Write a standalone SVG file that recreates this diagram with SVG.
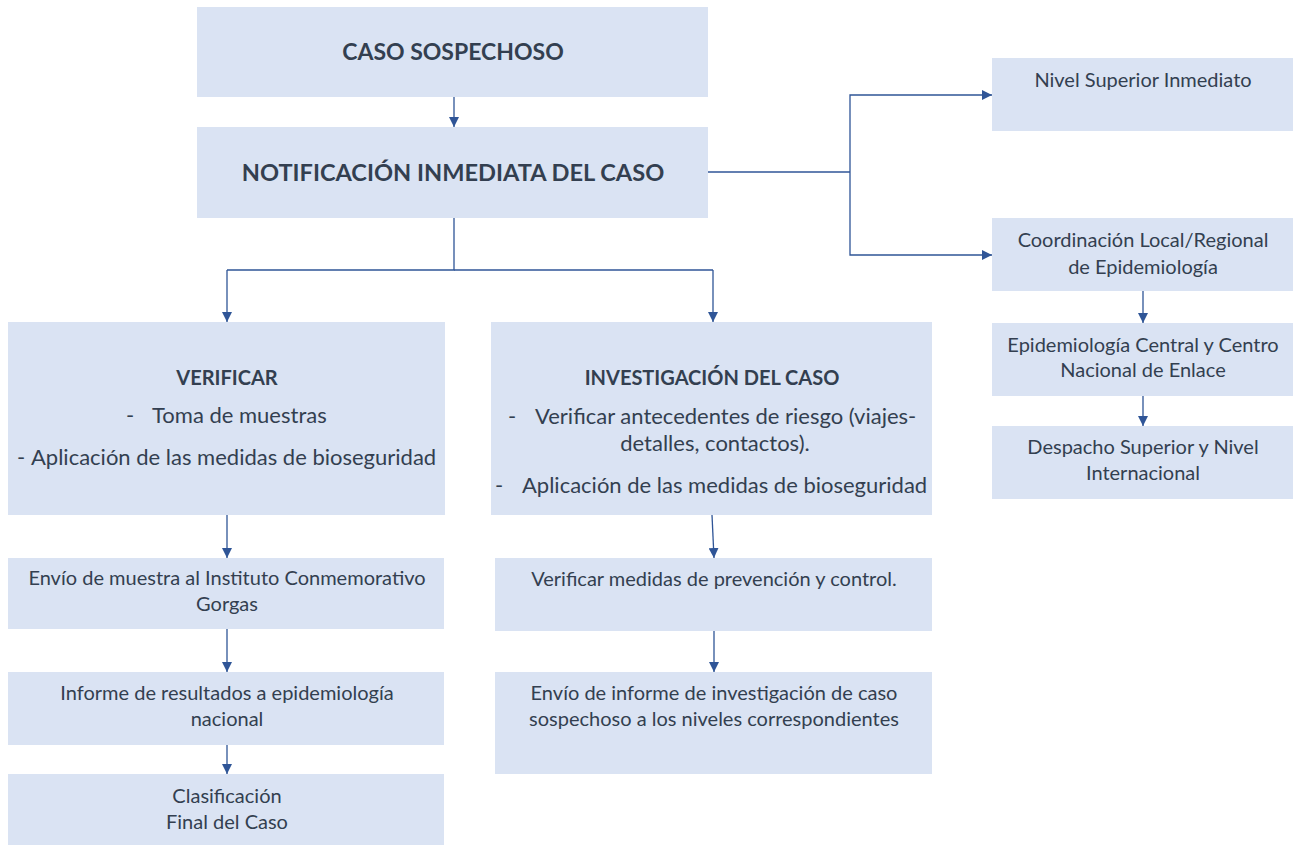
<svg xmlns="http://www.w3.org/2000/svg" width="1293" height="846" viewBox="0 0 1293 846">
<defs>
<marker id="ah" viewBox="0 0 10 10" refX="10" refY="5" markerWidth="10" markerHeight="10" markerUnits="userSpaceOnUse" orient="auto">
<path d="M0,0 L10,5 L0,10 z" fill="#2F5597"/>
</marker>
<style>
.box{fill:#DAE3F3;}
text{font-family:Lato,"Liberation Sans",sans-serif;fill:#333F50;font-size:20px;text-anchor:middle;}
.b{font-weight:bold;}
.lg{font-size:22px;}
.s{text-anchor:start;}
.c{stroke:#2F5597;stroke-width:1.3;fill:none;marker-end:url(#ah);}
.l{stroke:#2F5597;stroke-width:1.3;fill:none;}
</style>
</defs>
<rect width="1293" height="846" fill="#fff"/>
<g id="connectors">
<line class="c" x1="454" y1="97" x2="454" y2="127"/>
<polyline class="l" points="454,218 454,270 227,270"/>
<line class="l" x1="454" y1="270" x2="713" y2="270"/>
<line class="c" x1="227" y1="270" x2="227" y2="322"/>
<line class="c" x1="713" y1="270" x2="713" y2="322"/>
<polyline class="l" points="708,172 850,172"/>
<polyline class="c" points="850,172 850,95 992,95"/>
<polyline class="c" points="850,172 850,255 992,255"/>
<line class="c" x1="227" y1="515" x2="227" y2="558"/>
<line class="c" x1="227" y1="629" x2="227" y2="672"/>
<line class="c" x1="227" y1="745" x2="227" y2="774"/>
<line class="c" x1="712" y1="515" x2="714" y2="558"/>
<line class="c" x1="714" y1="631" x2="714" y2="672"/>
<line class="c" x1="1143" y1="291" x2="1143" y2="323"/>
<line class="c" x1="1143" y1="396" x2="1143" y2="426"/>
</g>
<g id="n-caso">
<rect class="box" x="197" y="7" width="511" height="90"/>
<text class="b" x="453" y="60" style="font-size:23px">CASO SOSPECHOSO</text>
</g>
<g id="n-notif">
<rect class="box" x="197" y="127" width="511" height="91"/>
<text class="b" x="453" y="181" style="font-size:23.6px">NOTIFICACIÓN INMEDIATA DEL CASO</text>
</g>
<g id="n-verificar">
<rect class="box" x="8" y="322" width="437" height="193"/>
<text class="b" x="227" y="385">VERIFICAR</text>
<text class="lg s" x="126" y="423">-</text>
<text class="lg s" x="152" y="423">Toma de muestras</text>
<text class="lg s" x="17" y="465">-</text>
<text class="lg s" x="31" y="465">Aplicación de las medidas de bioseguridad</text>
</g>
<g id="n-investigacion">
<rect class="box" x="491" y="322" width="441" height="193"/>
<text class="b" x="712" y="385">INVESTIGACIÓN DEL CASO</text>
<text class="lg s" x="508" y="424">-</text>
<text class="lg s" x="535" y="424">Verificar antecedentes de riesgo (viajes-</text>
<text class="lg" x="715" y="451">detalles, contactos).</text>
<text class="lg s" x="495" y="493">-</text>
<text class="lg s" x="522" y="493">Aplicación de las medidas de bioseguridad</text>
</g>
<g id="n-envio-muestra">
<rect class="box" x="8" y="558" width="436" height="71"/>
<text x="227" y="585">Envío de muestra al Instituto Conmemorativo</text>
<text x="227" y="611">Gorgas</text>
</g>
<g id="n-informe">
<rect class="box" x="8" y="672" width="436" height="73"/>
<text x="227" y="700">Informe de resultados a epidemiología</text>
<text x="227" y="726">nacional</text>
</g>
<g id="n-clasificacion">
<rect class="box" x="8" y="774" width="436" height="71"/>
<text x="227" y="803">Clasificación</text>
<text x="227" y="829">Final del Caso</text>
</g>
<g id="n-verificar-medidas">
<rect class="box" x="495" y="558" width="437" height="73"/>
<text x="714" y="586">Verificar medidas de prevención y control.</text>
</g>
<g id="n-envio-informe">
<rect class="box" x="495" y="672" width="437" height="102"/>
<text x="714" y="700">Envío de informe de investigación de caso</text>
<text x="714" y="726">sospechoso a los niveles correspondientes</text>
</g>
<g id="n-nivel-superior">
<rect class="box" x="992" y="58" width="301" height="73"/>
<text x="1143" y="87">Nivel Superior Inmediato</text>
</g>
<g id="n-coordinacion">
<rect class="box" x="992" y="218" width="301" height="73"/>
<text x="1143" y="247">Coordinación Local/Regional</text>
<text x="1143" y="274">de Epidemiología</text>
</g>
<g id="n-epi-central">
<rect class="box" x="992" y="323" width="301" height="73"/>
<text x="1143" y="352">Epidemiología Central y Centro</text>
<text x="1143" y="377">Nacional de Enlace</text>
</g>
<g id="n-despacho">
<rect class="box" x="992" y="426" width="301" height="73"/>
<text x="1143" y="454">Despacho Superior y Nivel</text>
<text x="1143" y="480">Internacional</text>
</g>
</svg>
